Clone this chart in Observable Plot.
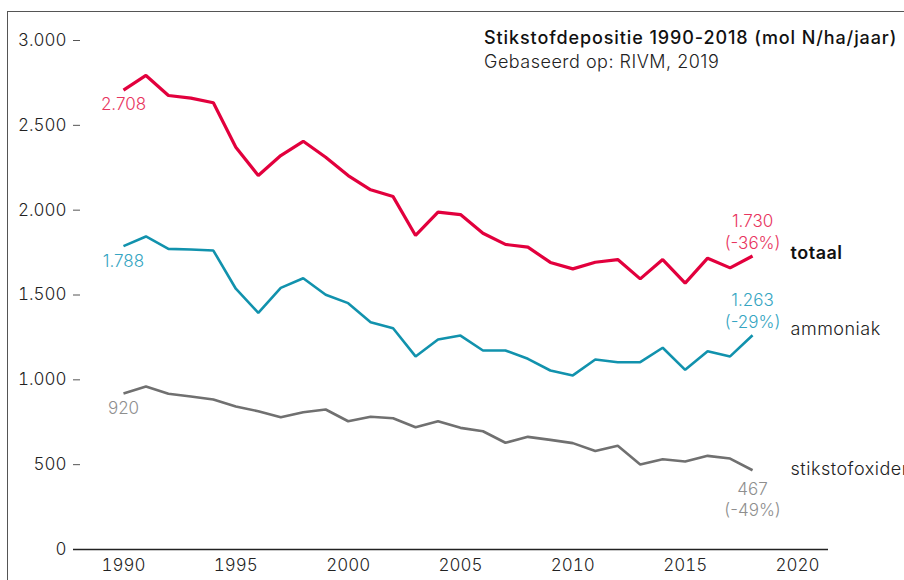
<!DOCTYPE html>
<html>
<head>
<meta charset="utf-8">
<script src="https://cdn.jsdelivr.net/npm/d3@7"></script>
<script src="https://cdn.jsdelivr.net/npm/@observablehq/plot@0.6"></script>
<style>
  html, body { margin: 0; padding: 0; background: #fff; }
  #wrap { position: relative; width: 904px; height: 580px; overflow: hidden; font-family: Inter, Roboto, sans-serif; }
  #border { position: absolute; left: 7px; top: 11px; right: -2px; bottom: -2px; border-top: 1.5px solid #555; border-left: 1.5px solid #555; }
  #chart { position: absolute; left: 0; top: 0; }
  #titles { position: absolute; left: 484px; top: 26px; line-height: 24px; color: #111; white-space: nowrap; }
  #title { font-size: 18px; font-weight: 500; letter-spacing: 0.9px; }
  #subtitle { font-size: 18px; font-weight: 300; color: #222; letter-spacing: 0.5px; }
  .serieslabel text { letter-spacing: 0.5px; }
</style>
</head>
<body>
<div id="wrap">
  <div id="border"></div>
  <div id="chart"></div>
  <div id="titles">
    <div id="title">Stikstofdepositie 1990-2018 (mol N/ha/jaar)</div>
    <div id="subtitle">Gebaseerd op: RIVM, 2019</div>
  </div>
</div>
<script>
const years = d3.range(1990, 2019);
const totaal = [2708, 2794, 2676, 2660, 2633, 2371, 2204, 2322, 2406, 2312, 2204, 2120, 2080, 1851, 1988, 1974, 1864, 1798, 1782, 1692, 1654, 1693, 1709, 1595, 1709, 1570, 1717, 1660, 1730];
const ammoniak = [1788, 1845, 1772, 1768, 1762, 1537, 1395, 1542, 1599, 1501, 1452, 1340, 1304, 1138, 1238, 1261, 1173, 1173, 1124, 1055, 1026, 1120, 1104, 1104, 1189, 1059, 1169, 1138, 1263];
const stikstofoxiden = [920, 961, 918, 902, 884, 843, 815, 780, 809, 825, 756, 782, 774, 721, 756, 717, 697, 629, 664, 646, 627, 580, 611, 501, 532, 519, 552, 536, 467];
const seriesNames = ["totaal", "ammoniak", "stikstofoxiden"];
const seriesValues = [totaal, ammoniak, stikstofoxiden];
const yTicks = [0, 500, 1000, 1500, 2000, 2500, 3000];
const xTicks = [1990, 1995, 2000, 2005, 2010, 2015, 2020];
const endChanges = ["-36%", "-29%", "-49%"];

const lineColors = {totaal: "#e2003d", ammoniak: "#1192ad", stikstofoxiden: "#707070"};
const labelColors = {totaal: "#e8345e", ammoniak: "#35a5c2", stikstofoxiden: "#8e8e8e"};
const lineWidths = {totaal: 3.2, ammoniak: 2.6, stikstofoxiden: 2.6};

const nl = d3.formatLocale({decimal: ",", thousands: ".", grouping: [3], currency: ["€", ""]});
const fmt = nl.format(",");

const rows = [];
seriesNames.forEach((s, i) => years.forEach((y, j) => rows.push({series: s, year: y, value: seriesValues[i][j]})));
const starts = seriesNames.map((s, i) => ({series: s, year: years[0], value: seriesValues[i][0]}));
const ends = seriesNames.map((s, i) => ({series: s, year: years[years.length - 1], value: seriesValues[i][years.length - 1], change: endChanges[i]}));
const labelDy = {totaal: -3, ammoniak: -6, stikstofoxiden: -1};
const FONT = "Inter, Roboto, sans-serif";

const plot = Plot.plot({
  width: 904,
  height: 580,
  marginLeft: 73,
  marginRight: 76,
  marginTop: 40,
  marginBottom: 31,
  style: {fontFamily: FONT, fontSize: "17px", background: "transparent", color: "#222", overflow: "visible"},
  x: {domain: [1987.775, 2021.38]},
  y: {domain: [0, 3000]},
  marks: [
    Plot.axisY({ticks: yTicks, tickFormat: fmt, tickSize: 7, tickPadding: 7, dx: 7, label: null, stroke: "#555", fill: "#222", fontSize: 17, fontWeight: 300}),
    Plot.axisX({ticks: xTicks, tickFormat: d => String(d), tickSize: 0, tickPadding: 9, label: null, fill: "#222", fontSize: 17, fontWeight: 300}),
    Plot.ruleY([0], {stroke: "#222", strokeWidth: 1.5}),
    ...seriesNames.map(s => Plot.line(rows.filter(d => d.series === s), {
      x: "year", y: "value", stroke: lineColors[s], strokeWidth: lineWidths[s], strokeLinejoin: "miter", strokeLinecap: "butt"
    })),
    Plot.text(starts, {x: "year", y: "value", text: d => fmt(d.value), fill: d => labelColors[d.series], dy: 15, fontSize: 17, fontWeight: 300}),
    Plot.text(ends.filter(d => d.series !== "stikstofoxiden"), {
      x: "year", y: "value", text: d => fmt(d.value) + "\n(" + d.change + ")",
      fill: d => labelColors[d.series], lineAnchor: "bottom", lineHeight: 1.32, dy: -7, fontSize: 17, fontWeight: 300
    }),
    Plot.text(ends.filter(d => d.series === "stikstofoxiden"), {
      x: "year", y: "value", text: d => fmt(d.value) + "\n(" + d.change + ")",
      fill: d => labelColors[d.series], lineAnchor: "top", lineHeight: 1.22, dy: 10, fontSize: 17, fontWeight: 300
    }),
    ...seriesNames.map(s => Plot.text(ends.filter(d => d.series === s), {
      x: "year", y: "value", text: "series", textAnchor: "start", dx: 38, dy: labelDy[s],
      fill: s === "totaal" ? "#111" : "#222", fontWeight: s === "totaal" ? 600 : 300, fontSize: 18,
      className: "serieslabel"
    }))
  ]
});
document.getElementById("chart").appendChild(plot);
</script>
</body>
</html>
